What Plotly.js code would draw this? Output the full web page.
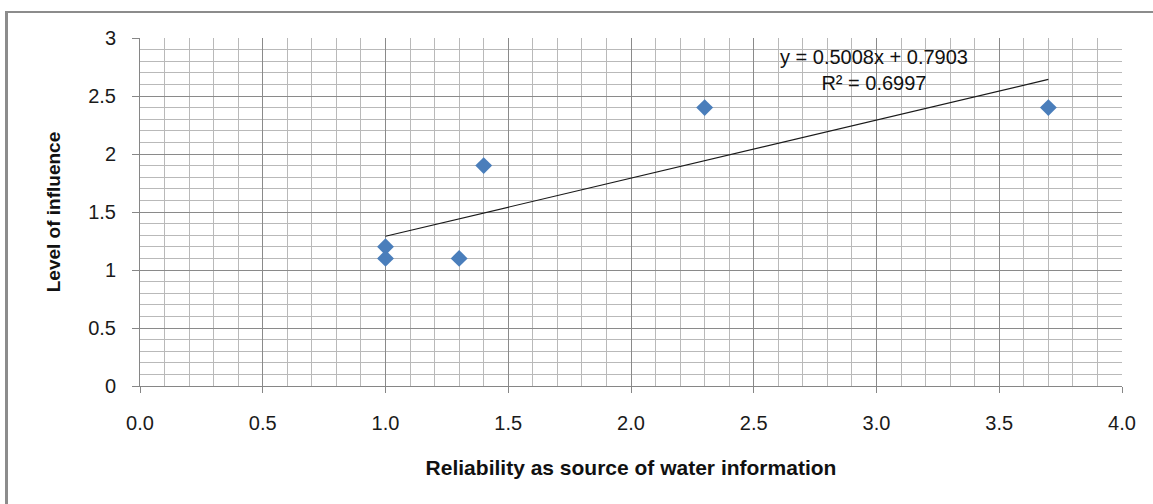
<!DOCTYPE html>
<html>
<head>
<meta charset="utf-8">
<script src="https://cdn.plot.ly/plotly-3.0.1.min.js"></script>
<style>
  html, body { margin: 0; padding: 0; background: #ffffff; }
  #frame { position: absolute; left: 5px; top: 11px; width: 1200px; height: 600px;
           border-left: 3px solid #8c8c8c; border-top: 2px solid #8c8c8c; }
  #chart { position: absolute; left: 0; top: 0; width: 1153px; height: 504px; }
</style>
</head>
<body>
<div id="frame"></div>
<div id="chart"></div>
<script>
// Data
const reliability = [1.0, 1.0, 1.3, 1.4, 2.3, 3.7];
const influence   = [1.2, 1.1, 1.1, 1.9, 2.4, 2.4];
const xTitle = "Reliability as source of water information";
const yTitle = "Level of influence";

// Linear least-squares trendline computed from the data
const n = reliability.length;
const mx = reliability.reduce((a, b) => a + b, 0) / n;
const my = influence.reduce((a, b) => a + b, 0) / n;
let sxx = 0, sxy = 0, syy = 0;
for (let i = 0; i < n; i++) {
  const dx = reliability[i] - mx, dy = influence[i] - my;
  sxx += dx * dx; sxy += dx * dy; syy += dy * dy;
}
const slope = sxy / sxx;
const intercept = my - slope * mx;
const r2 = (sxy * sxy) / (sxx * syy);
const xMin = Math.min(...reliability), xMax = Math.max(...reliability);
const trendX = [xMin, xMax];
const trendY = trendX.map(x => slope * x + intercept);

const font = "Liberation Sans, Arial, sans-serif";

const traces = [
  {
    x: trendX, y: trendY, type: "scatter", mode: "lines",
    line: { color: "#1a1a1a", width: 1.2 }, hoverinfo: "skip", showlegend: false
  },
  {
    x: reliability, y: influence, type: "scatter", mode: "markers",
    marker: { symbol: "diamond", size: 13, color: "#4a7ebb" }, showlegend: false
  }
];

const layout = {
  width: 1153, height: 504,
  margin: { l: 140, r: 31, t: 38, b: 118 },
  paper_bgcolor: "rgba(0,0,0,0)",
  plot_bgcolor: "#ffffff",
  showlegend: false,
  font: { family: font, color: "#222222" },
  xaxis: {
    range: [0, 4], tick0: 0, dtick: 0.5, tickformat: ".1f",
    showgrid: true, gridcolor: "#8a8a8a", gridwidth: 1,
    minor: { dtick: 0.1, showgrid: true, gridcolor: "#b9b9b9", gridwidth: 1 },
    zeroline: false, showline: true, linecolor: "#868686", linewidth: 1,
    ticks: "outside", ticklen: 6, tickcolor: "#868686",
    ticklabelstandoff: 13,
    tickfont: { size: 20, family: font, color: "#1a1a1a" },
    title: { text: xTitle, standoff: 27, font: { size: 21, family: font, color: "#111111", weight: "bold" } },
    fixedrange: true
  },
  yaxis: {
    range: [0, 3], tick0: 0, dtick: 0.5,
    showgrid: true, gridcolor: "#8a8a8a", gridwidth: 1,
    minor: { dtick: 0.1, showgrid: true, gridcolor: "#b9b9b9", gridwidth: 1 },
    zeroline: false, showline: true, linecolor: "#868686", linewidth: 1,
    ticks: "outside", ticklen: 7, tickcolor: "#868686",
    ticklabelstandoff: 12,
    tickfont: { size: 20, family: font, color: "#1a1a1a" },
    title: { text: yTitle, standoff: 22, font: { size: 19, family: font, color: "#111111", weight: "bold" } },
    fixedrange: true
  },
  annotations: [
    {
      x: 2.99, y: 2.725, xref: "x", yref: "y", showarrow: false,
      xanchor: "center", yanchor: "middle", align: "center",
      text: "y = " + slope.toFixed(4) + "x + " + intercept.toFixed(4) +
            "<br>R² = " + r2.toFixed(4),
      font: { size: 20, family: font, color: "#111111" }
    }
  ]
};

Plotly.newPlot("chart", traces, layout, { displayModeBar: false, staticPlot: true });
</script>
</body>
</html>
